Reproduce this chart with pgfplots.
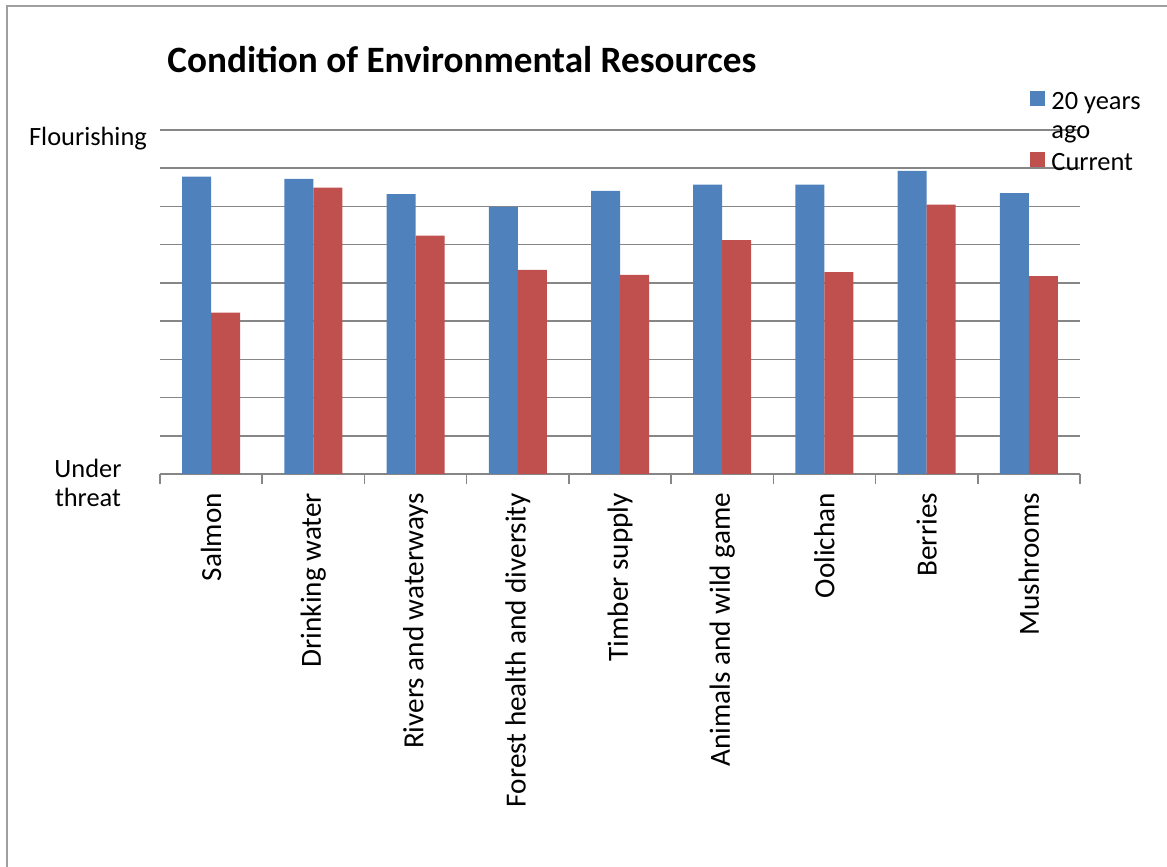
\documentclass[border=0pt]{standalone}
\usepackage{pgfplots}
\pgfplotsset{compat=1.18}
\usepackage{fontspec}
\setmainfont{Carlito}
\definecolor{cblue}{HTML}{4F81BD}
\definecolor{cred}{HTML}{C0504D}
\definecolor{gridgray}{HTML}{868686}
\begin{document}
\begin{tikzpicture}
\path[use as bounding box] (0,0) rectangle (583.5pt,433.5pt);
\draw[color=gray!75, line width=1pt] (3.5pt,0) -- (3.5pt,430.5pt) -- (583.5pt,430.5pt);
\begin{axis}[
  at={(80pt,196.5pt)}, anchor=south west,
  scale only axis, width=460pt, height=172pt,
  ybar=0pt, bar width=14.5pt,
  xmin=-0.5, xmax=8.5, ymin=0, ymax=9,
  axis lines*=left, axis line style={draw=none},
  xtick={0,...,8},
  xticklabels={Salmon,Drinking water,Rivers and waterways,Forest health and diversity,Timber supply,Animals and wild game,Oolichan,Berries,Mushrooms},
  minor xtick={-0.5,0.5,...,8.5},
  major tick length=0pt, minor tick length=5pt,
  tick align=outside,
  every tick/.style={gridgray, line width=0.8pt},
  xticklabel style={yshift=-6pt, rotate=90, anchor=east, font=\fontsize{14.6}{16}\selectfont},
  ytick={0,...,9},
  yticklabels={Under\\threat,,,,,,,,,Flourishing},
  yticklabel style={anchor=center, align=center, xshift=-36pt, yshift=-4.5pt, font=\fontsize{13.2}{14.5}\selectfont},
  ymajorgrids, grid style={gridgray, line width=0.8pt},
  title={\textbf{Condition of Environmental Resources}},
  title style={at={(rel axis cs:0.0076,1.1686)}, anchor=base west, yshift=-6pt, font=\fontsize{18.6}{22}\selectfont, inner sep=0pt},
  legend style={at={(rel axis cs:0.9457,1.12)}, anchor=north west, draw=none, fill=none, inner sep=0pt,
    font=\fontsize{13.2}{14.5}\selectfont, nodes={inner xsep=3pt, inner ysep=0pt}, row sep=19pt},
  legend cell align=left,
  legend image code/.code={\fill[#1] (0pt,-2.5pt) rectangle (7.5pt,5pt);},
]
\addplot[fill=cblue, draw=none] coordinates {(0,7.78) (1,7.72) (2,7.32) (3,6.99) (4,7.41) (5,7.57) (6,7.57) (7,7.93) (8,7.35)};
\addplot[fill=cred, draw=none] coordinates {(0,4.22) (1,7.49) (2,6.24) (3,5.34) (4,5.21) (5,6.12) (6,5.28) (7,7.05) (8,5.18)};
\legend{{\begin{tabular}[t]{@{}l@{}}20 years\\ago\end{tabular}}, {\strut Current}}
\end{axis}
\end{tikzpicture}
\end{document}
